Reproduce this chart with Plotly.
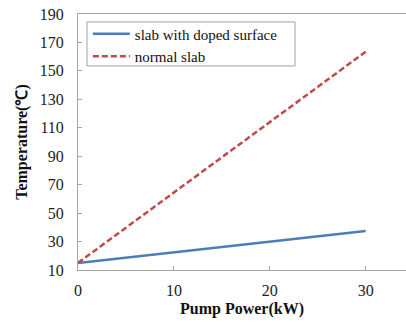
import plotly.graph_objects as go

pump_power = [0, 30]
doped_temp = [15, 37.5]
normal_temp = [15, 163.5]
y_ticks = [10, 30, 50, 70, 90, 110, 130, 150, 170, 190]
x_ticks = [0, 10, 20, 30]

SERIF = "Liberation Serif"

fig = go.Figure()
fig.add_trace(go.Scatter(x=pump_power, y=doped_temp, mode="lines",
                         name="slab with doped surface",
                         line=dict(color="#4a7ebb", width=2.5)))
fig.add_trace(go.Scatter(x=pump_power, y=normal_temp, mode="lines",
                         name="normal slab",
                         line=dict(color="#be4b48", width=2.5, dash="6px,3px")))

# legend frame
fig.add_shape(type="rect", xref="paper", yref="paper",
              x0=0.0274, x1=0.6616, y0=0.797, y1=0.969,
              line=dict(color="#a0a0a0", width=1), fillcolor="white", layer="below")

axis_font = dict(family=SERIF, size=16, color="#222")
fig.update_layout(
    width=406, height=322,
    margin=dict(l=78, r=0, t=14, b=52),
    paper_bgcolor="white", plot_bgcolor="white",
    font=dict(family=SERIF, size=16, color="#111"),
    showlegend=True,
    legend=dict(x=0.03, y=0.986, xanchor="left", yanchor="top",
                borderwidth=0, bgcolor="rgba(0,0,0,0)",
                font=dict(family=SERIF, size=15, color="#111"),
                tracegroupgap=0, itemwidth=37),
    xaxis=dict(range=[0, 34.2], tickvals=x_ticks, showgrid=False, zeroline=False,
               showline=True, linecolor="#a6a6a6", linewidth=1, mirror=True,
               ticks="inside", ticklen=4, tickcolor="#a6a6a6",
               tickfont=axis_font, ticklabelstandoff=6, automargin=False,
               ticklabeloverflow="allow",
               title=dict(text="<b>Pump Power(kW)</b>", standoff=4,
                          font=dict(family=SERIF, size=16, color="#111"))),
    yaxis=dict(range=[10, 190], tickvals=y_ticks, showgrid=False, zeroline=False,
               showline=True, linecolor="#a6a6a6", linewidth=1,
               ticks="inside", ticklen=4, tickcolor="#a6a6a6",
               tickfont=axis_font, ticklabelstandoff=10, automargin=False,
               ticklabeloverflow="allow",
               title=dict(text="<b>Temperature(℃)</b>", standoff=8,
                          font=dict(family=SERIF, size=16, color="#111"))),
)
fig.write_html("out.html", config={"displayModeBar": False},
               post_script="document.body.style.margin='0';")
